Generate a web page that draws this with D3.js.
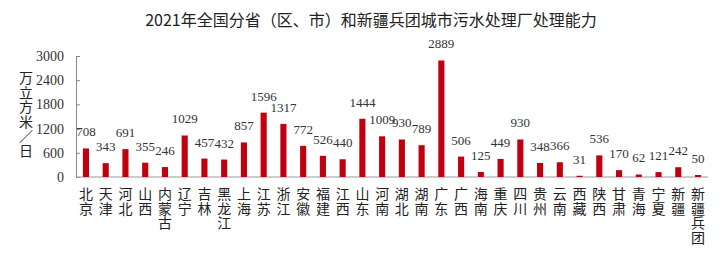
<!DOCTYPE html>
<html>
<head>
<meta charset="utf-8">
<script src="https://cdn.jsdelivr.net/npm/d3@7"></script>
<style>
  html, body { margin: 0; padding: 0; background: #fff; }
  svg { display: block; }
  .vert { writing-mode: vertical-rl; text-orientation: mixed; }
</style>
</head>
<body>
<svg id="chart" width="724" height="258"></svg>
<script>
// Provinces (regions, municipalities) plus the XPCC
const categories = ["北京","天津","河北","山西","内蒙古","辽宁","吉林","黑龙江","上海","江苏","浙江","安徽","福建","江西","山东","河南","湖北","湖南","广东","广西","海南","重庆","四川","贵州","云南","西藏","陕西","甘肃","青海","宁夏","新疆","新疆兵团"];
// Urban sewage treatment capacity, 10k m³/day
const capacity = [708,343,691,355,246,1029,457,432,857,1596,1317,772,526,440,1444,1009,930,789,2889,506,125,449,930,348,366,31,536,170,62,121,242,50];
const yTicks = [0,600,1200,1800,2400,3000];
const titleText = "2021年全国分省（区、市）和新疆兵团城市污水处理厂处理能力";
const yTitle = "万立方米／日";

const svg = d3.select("#chart");
const cjk = "'Noto Sans CJK SC', sans-serif";
const serif = "'Liberation Serif', 'Times New Roman', serif";

const x = d3.scaleBand().domain(categories).range([76, 708]).paddingInner(0.69).paddingOuter(0.35);
const y = d3.scaleLinear().domain([0, 3000]).range([177, 56]);

// title
svg.append("text")
  .attr("x", 371).attr("y", 26)
  .attr("text-anchor", "middle")
  .attr("font-family", cjk).attr("font-size", 16)
  .attr("fill", "#222")
  .text(titleText);

// y axis with inward ticks
const yAxis = svg.append("g")
  .attr("transform", "translate(76,0)")
  .call(d3.axisLeft(y).tickValues(yTicks).tickSize(-4).tickPadding(12).tickFormat(d3.format("d")));
yAxis.select(".domain").attr("stroke", "#888");
yAxis.selectAll(".tick line").attr("stroke", "#888");
yAxis.selectAll(".tick text")
  .attr("font-family", serif).attr("font-size", 14).attr("fill", "#333");

// x axis baseline
svg.append("line")
  .attr("x1", 76).attr("x2", 708)
  .attr("y1", y(0)).attr("y2", y(0))
  .attr("stroke", "#999").attr("stroke-width", 1);

// y-axis title, written vertically
svg.append("text")
  .attr("class", "vert")
  .attr("x", 26).attr("y", 71)
  .attr("font-family", cjk).attr("font-size", 14)
  .attr("letter-spacing", 0.5)
  .attr("fill", "#222")
  .text(yTitle);

// bars
svg.append("g").selectAll("rect")
  .data(categories)
  .join("rect")
  .attr("x", (d) => x(d))
  .attr("width", x.bandwidth())
  .attr("y", (d, i) => y(capacity[i]))
  .attr("height", (d, i) => y(0) - y(capacity[i]))
  .attr("fill", "#c0000f");

// value labels
svg.append("g").selectAll("text")
  .data(categories)
  .join("text")
  .attr("x", (d) => x(d) + x.bandwidth() / 2)
  .attr("y", (d, i) => y(capacity[i]) - 12)
  .attr("text-anchor", "middle")
  .attr("font-family", serif).attr("font-size", 13)
  .attr("fill", "#333")
  .text((d, i) => capacity[i]);

// category labels, written vertically under each bar
svg.append("g").selectAll("text")
  .data(categories)
  .join("text")
  .attr("class", "vert")
  .attr("x", (d) => x(d) + x.bandwidth() / 2)
  .attr("y", 187)
  .attr("font-family", cjk).attr("font-size", 14)
  .attr("letter-spacing", 0.5)
  .attr("fill", "#222")
  .text((d) => d);
</script>
</body>
</html>
